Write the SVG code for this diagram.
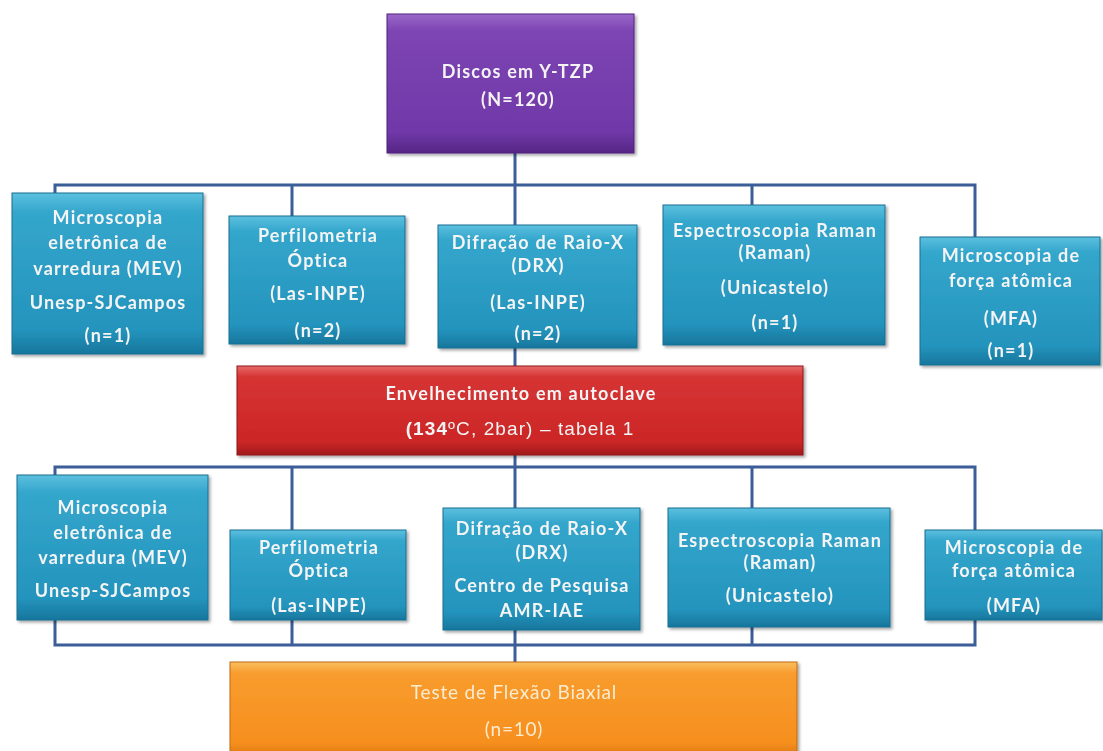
<svg xmlns="http://www.w3.org/2000/svg" width="1103" height="751" viewBox="0 0 1103 751">
<defs>
<linearGradient id="gBlue" x1="0" y1="0" x2="0" y2="1">
<stop offset="0" stop-color="#5cc0df"/><stop offset="0.12" stop-color="#34a6cc"/><stop offset="0.85" stop-color="#2494bd"/><stop offset="1" stop-color="#17769c"/>
</linearGradient>
<linearGradient id="gPurple" x1="0" y1="0" x2="0" y2="1">
<stop offset="0" stop-color="#9a68c8"/><stop offset="0.12" stop-color="#7d45b3"/><stop offset="0.85" stop-color="#7038a8"/><stop offset="1" stop-color="#552685"/>
</linearGradient>
<linearGradient id="gRed" x1="0" y1="0" x2="0" y2="1">
<stop offset="0" stop-color="#e86a6a"/><stop offset="0.12" stop-color="#d63434"/><stop offset="0.85" stop-color="#cc2626"/><stop offset="1" stop-color="#a01a1c"/>
</linearGradient>
<linearGradient id="gOrange" x1="0" y1="0" x2="0" y2="1">
<stop offset="0" stop-color="#fbbf60"/><stop offset="0.12" stop-color="#f89c2e"/><stop offset="0.85" stop-color="#f68f1e"/><stop offset="1" stop-color="#d87610"/>
</linearGradient>
<filter id="sh" x="-5%" y="-5%" width="112%" height="115%">
<feDropShadow dx="2" dy="2" stdDeviation="1.5" flood-color="#000" flood-opacity="0.35"/>
</filter>
</defs>
<style>
.box{filter:url(#sh);}
.blue{fill:url(#gBlue);stroke:#1a6f92;stroke-width:1;}
.purple{fill:url(#gPurple);stroke:#4f2380;stroke-width:1;}
.red{fill:url(#gRed);stroke:#8f1718;stroke-width:1;}
.orange{fill:url(#gOrange);stroke:#c06a10;stroke-width:1;}
text{font-family:Lato,"Open Sans","Liberation Sans",sans-serif;font-weight:bold;font-size:18px;fill:#f4f4f4;text-anchor:middle;letter-spacing:1.2px;}
.reg{font-family:"Liberation Sans",Arial,sans-serif;font-weight:normal;font-size:19px;letter-spacing:1.1px;}
.thin{font-weight:normal;font-size:19px;letter-spacing:0.8px;fill:#fbecd0;}
.conn{fill:none;stroke:#3b5d98;stroke-width:3;}
</style>
<rect width="1103" height="751" fill="#ffffff"/>
<g id="connectors">
<line class="conn" x1="515" y1="153" x2="515" y2="366"/>
<polyline class="conn" points="55,193 55,185 975,185 975,237"/>
<line class="conn" x1="292" y1="185" x2="292" y2="216"/>
<line class="conn" x1="752" y1="185" x2="752" y2="205"/>
<line class="conn" x1="515" y1="455" x2="515" y2="662"/>
<rect class="conn" x="55" y="467" width="920" height="178"/>
<line class="conn" x1="292" y1="467" x2="292" y2="645"/>
<line class="conn" x1="752" y1="467" x2="752" y2="645"/>
</g>
<g id="discos" class="box">
<rect class="purple" x="387" y="14" width="247" height="139"/>
<text x="518" y="78">Discos em Y-TZP</text>
<text x="518" y="106">(N=120)</text>
</g>
<g id="mev1" class="box">
<rect class="blue" x="12" y="193" width="191" height="161"/>
<text x="108" y="224">Microscopia</text>
<text x="108" y="249">eletrônica de</text>
<text x="108" y="275">varredura (MEV)</text>
<text x="108" y="309">Unesp-SJCampos</text>
<text x="108" y="342">(n=1)</text>
</g>
<g id="perf1" class="box">
<rect class="blue" x="229" y="216" width="176" height="128"/>
<text x="318" y="242">Perfilometria</text>
<text x="318" y="267">Óptica</text>
<text x="318" y="300">(Las-INPE)</text>
<text x="318" y="337">(n=2)</text>
</g>
<g id="drx1" class="box">
<rect class="blue" x="438" y="225" width="199" height="123"/>
<text x="538" y="249">Difração de Raio-X</text>
<text x="538" y="272">(DRX)</text>
<text x="538" y="309">(Las-INPE)</text>
<text x="538" y="340">(n=2)</text>
</g>
<g id="raman1" class="box">
<rect class="blue" x="663" y="205" width="222" height="140"/>
<text x="775" y="237">Espectroscopia Raman</text>
<text x="775" y="259">(Raman)</text>
<text x="775" y="294">(Unicastelo)</text>
<text x="775" y="329">(n=1)</text>
</g>
<g id="mfa1" class="box">
<rect class="blue" x="920" y="237" width="180" height="128"/>
<text x="1011" y="262">Microscopia de</text>
<text x="1011" y="287">força atômica</text>
<text x="1011" y="325">(MFA)</text>
<text x="1011" y="357">(n=1)</text>
</g>
<g id="autoclave" class="box">
<rect class="red" x="237" y="366" width="566" height="89"/>
<text x="521" y="400">Envelhecimento em autoclave</text>
<text x="520" y="435" class="reg"><tspan font-weight="bold">(134</tspan>ºC, 2bar) – tabela 1</text>
</g>
<g id="mev2" class="box">
<rect class="blue" x="17" y="475" width="191" height="145"/>
<text x="113" y="514">Microscopia</text>
<text x="113" y="539">eletrônica de</text>
<text x="113" y="564">varredura (MEV)</text>
<text x="113" y="597">Unesp-SJCampos</text>
</g>
<g id="perf2" class="box">
<rect class="blue" x="230" y="530" width="176" height="90"/>
<text x="319" y="554">Perfilometria</text>
<text x="319" y="577">Óptica</text>
<text x="319" y="612">(Las-INPE)</text>
</g>
<g id="drx2" class="box">
<rect class="blue" x="443" y="508" width="197" height="122"/>
<text x="542" y="535">Difração de Raio-X</text>
<text x="542" y="559">(DRX)</text>
<text x="542" y="592">Centro de Pesquisa</text>
<text x="542" y="617">AMR-IAE</text>
</g>
<g id="raman2" class="box">
<rect class="blue" x="668" y="508" width="222" height="119"/>
<text x="780" y="547">Espectroscopia Raman</text>
<text x="780" y="569">(Raman)</text>
<text x="780" y="602">(Unicastelo)</text>
</g>
<g id="mfa2" class="box">
<rect class="blue" x="925" y="530" width="177" height="90"/>
<text x="1014" y="554">Microscopia de</text>
<text x="1014" y="577">força atômica</text>
<text x="1014" y="612">(MFA)</text>
</g>
<g id="flexao" class="box">
<rect class="orange" x="230" y="662" width="567" height="95"/>
<text x="514" y="699" class="thin">Teste de Flexão Biaxial</text>
<text x="514" y="736" class="thin">(n=10)</text>
</g>
</svg>
